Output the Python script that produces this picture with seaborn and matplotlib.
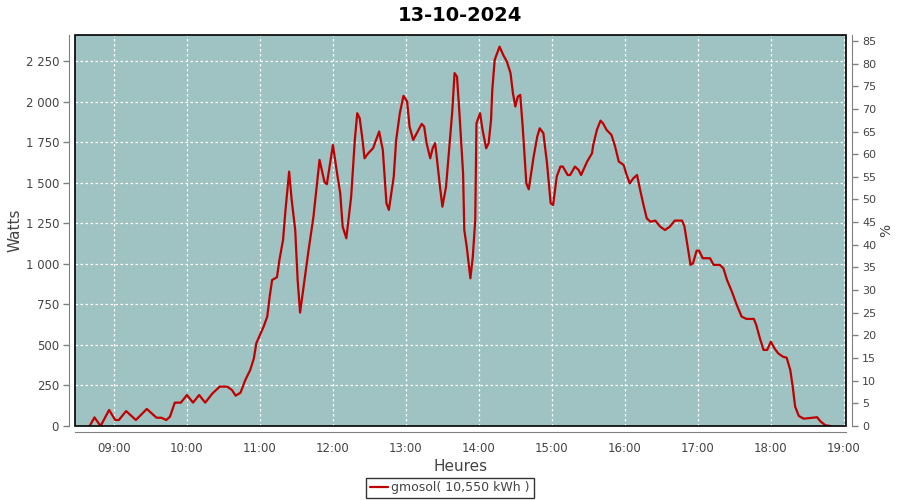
import pandas as pd
import numpy as np
import matplotlib
matplotlib.use("Agg")
import matplotlib.pyplot as plt
import matplotlib.ticker as mticker
import seaborn as sns

TITLE = "13-10-2024"
SERIES = "gmosol( 10,550 kWh )"

heures = [
    "08:40", "08:44", "08:49", "08:53", "08:56", "09:01", "09:04", "09:10", "09:18", "09:27",
    "09:35", "09:39", "09:43", "09:46", "09:50", "09:55", "10:00", "10:05", "10:10", "10:15",
    "10:21", "10:27", "10:33", "10:37", "10:40", "10:44", "10:48", "10:52", "10:55", "10:57",
    "11:00", "11:03", "11:06", "11:08", "11:10", "11:14", "11:16", "11:19", "11:21", "11:24",
    "11:26", "11:29", "11:31", "11:33", "11:40", "11:44", "11:49", "11:53", "11:55", "12:00",
    "12:03", "12:06", "12:08", "12:11", "12:15", "12:18", "12:20", "12:22", "12:24", "12:26",
    "12:29", "12:33", "12:38", "12:41", "12:44", "12:46", "12:50", "12:52", "12:55", "12:58",
    "13:01", "13:03", "13:06", "13:09", "13:13", "13:15", "13:17", "13:20", "13:22", "13:24",
    "13:25", "13:28", "13:30", "13:33", "13:38", "13:40", "13:42", "13:44", "13:47", "13:48",
    "13:50", "13:53", "13:55", "13:57", "13:58", "14:01", "14:03", "14:06", "14:08", "14:10",
    "14:11", "14:13", "14:17", "14:20", "14:23", "14:26", "14:28", "14:30", "14:32", "14:34",
    "14:36", "14:39", "14:41", "14:45", "14:48", "14:50", "14:53", "14:56", "14:59", "15:01",
    "15:04", "15:07", "15:09", "15:13", "15:15", "15:19", "15:22", "15:24", "15:29", "15:33",
    "15:34", "15:37", "15:40", "15:42", "15:45", "15:49", "15:52", "15:55", "15:59", "16:01",
    "16:04", "16:07", "16:10", "16:12", "16:15", "16:18", "16:21", "16:25", "16:29", "16:33",
    "16:37", "16:41", "16:47", "16:49", "16:52", "16:54", "16:56", "16:59", "17:01", "17:04",
    "17:10", "17:13", "17:18", "17:21", "17:24", "17:28", "17:32", "17:36", "17:40", "17:46",
    "17:48", "17:51", "17:54", "17:57", "18:00", "18:03", "18:06", "18:10", "18:13", "18:16",
    "18:18", "18:20", "18:23", "18:27", "18:38", "18:41", "18:45", "18:49",
]
watts = [
    0, 53, 0, 57, 99, 37, 37, 92, 37, 105,
    51, 51, 37, 57, 144, 144, 191, 144, 191, 144,
    201, 243, 243, 222, 187, 205, 284, 345, 417, 510,
    561, 612, 674, 797, 900, 917, 1023, 1147, 1330, 1568,
    1400, 1208, 900, 699, 1085, 1290, 1640, 1506, 1490, 1732,
    1578, 1435, 1229, 1157, 1414, 1763, 1928, 1897, 1784, 1650,
    1681, 1712, 1815, 1702, 1373, 1332, 1537, 1763, 1928, 2035,
    2000, 1845, 1763, 1805, 1862, 1845, 1743, 1650, 1712, 1743,
    1681, 1475, 1352, 1475, 1928, 2175, 2154, 1928, 1558, 1208,
    1105, 910, 1044, 1270, 1866, 1928, 1825, 1712, 1743, 1887,
    2072, 2257, 2338, 2287, 2246, 2175, 2050, 1969, 2030, 2041,
    1845, 1496, 1459, 1660, 1784, 1835, 1805, 1620, 1373, 1362,
    1537, 1599, 1599, 1547, 1547, 1599, 1578, 1547, 1630, 1681,
    1732, 1825, 1882, 1866, 1825, 1794, 1722, 1630, 1609, 1558,
    1496, 1527, 1547, 1475, 1373, 1280, 1259, 1266, 1229, 1208,
    1229, 1266, 1266, 1229, 1085, 993, 1003, 1081, 1081, 1034,
    1034, 993, 993, 972, 900, 828, 746, 674, 660, 660,
    623, 541, 469, 469, 520, 479, 448, 427, 421, 345,
    242, 119, 62, 45, 54, 27, 4, 0,
]

watt_ticks = list(range(0, 2251, 250))
pct_ticks = list(range(0, 86, 5))
hour_ticks = list(range(9, 20))

df = pd.DataFrame({"heure": heures, "watts": watts})
t = pd.to_datetime(df["heure"], format="%H:%M")
df["h"] = t.dt.hour + t.dt.minute / 60.0

sns.set_style("white")
plt.rcParams["font.family"] = ["DejaVu Sans"]

fond = "#9EC3C2"
rouge = "#C00000"
gris = "#808080"
texte = "#444444"

fig = plt.figure(figsize=(9, 5), dpi=100)
ax = fig.add_axes([75 / 900, 1 - 426 / 500, (846 - 75) / 900, (426 - 35) / 500])
ax.set_facecolor(fond)

sns.lineplot(data=df, x="h", y="watts", ax=ax, color=rouge, linewidth=1.6,
             label=SERIES, legend=False)

ax.set_xlim(8.466, 19.03)
ax.set_ylim(0, 2410)
ax.set_xticks(hour_ticks)
ax.set_xticklabels([f"{h:02d}:00" for h in hour_ticks])
ax.set_yticks(watt_ticks)
ax.yaxis.set_major_formatter(mticker.FuncFormatter(lambda v, p: f"{int(v):,}".replace(",", " ")))
ax.grid(True, color="white", linestyle=(0, (2, 2)), linewidth=0.9)

for s in ["top", "right"]:
    ax.spines[s].set_visible(False)
for s in ["left", "bottom"]:
    ax.spines[s].set_position(("outward", 4))
    ax.spines[s].set_color(gris)
ax.add_patch(plt.Rectangle((0, 0), 1, 1, transform=ax.transAxes, fill=False,
                           edgecolor="black", linewidth=1.2, clip_on=False, zorder=5))
ax.tick_params(axis="both", colors=gris, labelcolor=texte, labelsize=8.5,
               length=4, width=1, direction="out")

ax.set_xlabel("Heures", fontsize=11, color=texte, labelpad=3)
ax.set_ylabel("Watts", fontsize=11, color=texte, labelpad=2)
ax.set_title(TITLE, fontsize=14, fontweight="bold", color="black", pad=10)

ax2 = ax.twinx()
ax2.set_ylim(0, 86.3)
ax2.set_yticks(pct_ticks)
for s in ["top", "left", "bottom"]:
    ax2.spines[s].set_visible(False)
ax2.spines["right"].set_position(("outward", 4))
ax2.spines["right"].set_color(gris)
ax2.tick_params(axis="y", colors=gris, labelcolor=texte, labelsize=8,
                length=4, width=1, direction="out")
ax2.set_ylabel("%", fontsize=10, color=texte, labelpad=2)

handles, labels = ax.get_legend_handles_labels()
leg = fig.legend(handles, labels, loc="center", bbox_to_anchor=(0.5, 1 - 488 / 500),
                 frameon=True, fancybox=False, fontsize=9, handlelength=1.4,
                 handletextpad=0.3, borderpad=0.3, labelcolor=texte)
leg.get_frame().set_edgecolor("black")
leg.get_frame().set_linewidth(1)

fig.savefig("out.png", dpi=100)
